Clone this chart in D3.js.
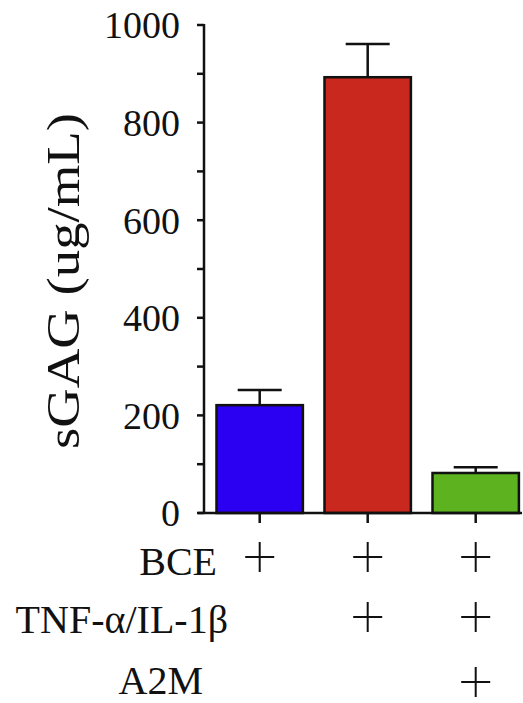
<!DOCTYPE html>
<html>
<head>
<meta charset="utf-8">
<script src="https://cdn.jsdelivr.net/npm/d3@7"></script>
<style>
  html, body { margin: 0; padding: 0; background: #fff; }
  svg { display: block; }
  text { font-family: "Liberation Serif", "Times New Roman", Times, serif; fill: #111; }
</style>
</head>
<body>
<svg id="chart" width="523" height="703"></svg>
<script>
// ---- data ----
const groups = ["BCE", "BCE+TNF/IL", "BCE+TNF/IL+A2M"];
const means = [221, 893, 82];
const errors = [31, 68, 12];
const barColors = ["#2b00f2", "#c8281d", "#5db31f"];
const yTicksMajor = [0, 200, 400, 600, 800, 1000];
const yTicksMinor = [100, 300, 500, 700, 900];
const rowLabels = ["BCE", "TNF-\u03b1/IL-1\u03b2", "A2M"];
const rowPlus = [[1, 1, 1], [0, 1, 1], [0, 0, 1]];
const yTitle = "sGAG (ug/mL)";

// ---- layout ----
const FONT = '"Liberation Serif", "Times New Roman", Times, serif';
const svg = d3.select("#chart");
const axisX = 204, plotTop = 25, plotBottom = 513, plotRight = 522;

const x = d3.scaleBand().domain(groups).range([216.5, 518.9]).paddingInner(0.2).paddingOuter(0);
const y = d3.scaleLinear().domain([0, 1000]).range([plotBottom, plotTop]);

// bars
svg.append("g").selectAll("rect").data(groups).join("rect")
  .attr("x", d => x(d))
  .attr("y", (d, i) => y(means[i]))
  .attr("width", x.bandwidth())
  .attr("height", (d, i) => y(0) - y(means[i]))
  .attr("fill", (d, i) => barColors[i])
  .attr("stroke", "#111")
  .attr("stroke-width", 2.5);

// error bars (upper only)
const eb = svg.append("g").attr("stroke", "#111").attr("stroke-width", 2.5);
groups.forEach((g, i) => {
  const cx = x(g) + x.bandwidth() / 2;
  eb.append("line").attr("x1", cx).attr("x2", cx).attr("y1", y(means[i])).attr("y2", y(means[i] + errors[i]));
  eb.append("line").attr("x1", cx - 22).attr("x2", cx + 22).attr("y1", y(means[i] + errors[i])).attr("y2", y(means[i] + errors[i]));
});

// y axis
const yAxis = svg.append("g").attr("transform", `translate(${axisX},0)`);
yAxis.append("line").attr("x1", 0).attr("x2", 0).attr("y1", plotTop - 1).attr("y2", plotBottom)
  .attr("stroke", "#111").attr("stroke-width", 2.5);
yAxis.selectAll("line.tk").data(yTicksMajor.concat(yTicksMinor)).join("line").attr("class", "tk")
  .attr("x1", -7).attr("x2", 0).attr("y1", d => y(d)).attr("y2", d => y(d))
  .attr("stroke", "#111").attr("stroke-width", 2.5);
yAxis.selectAll("text").data(yTicksMajor).join("text")
  .attr("x", -24).attr("y", d => y(d)).attr("dy", "0.35em")
  .attr("text-anchor", "end").attr("font-size", 38).attr("font-family", FONT)
  .text(d => d);

// y title
svg.append("text")
  .attr("transform", `translate(79,281) rotate(-90)`)
  .attr("text-anchor", "middle")
  .attr("font-size", 46).attr("font-family", FONT)
  .attr("textLength", 336).attr("lengthAdjust", "spacingAndGlyphs")
  .text(yTitle);

// x axis
const xAxis = svg.append("g");
xAxis.append("line").attr("x1", axisX - 6).attr("x2", plotRight).attr("y1", plotBottom).attr("y2", plotBottom)
  .attr("stroke", "#111").attr("stroke-width", 2.5);
xAxis.selectAll("line.tk").data(groups).join("line").attr("class", "tk")
  .attr("x1", d => x(d) + x.bandwidth() / 2).attr("x2", d => x(d) + x.bandwidth() / 2)
  .attr("y1", plotBottom).attr("y2", plotBottom + 10)
  .attr("stroke", "#111").attr("stroke-width", 2.5);

// condition rows
const rowY = [557, 617, 682];
const rowBaseline = [575, 633, 694];
const rowRight = [217, 228, 203];
rowLabels.forEach((lab, r) => {
  svg.append("text").attr("x", rowRight[r]).attr("y", rowBaseline[r])
    .attr("text-anchor", "end").attr("font-size", 40).attr("font-family", FONT).text(lab);
  groups.forEach((g, i) => {
    if (!rowPlus[r][i]) return;
    const cx = x(g) + x.bandwidth() / 2, cy = rowY[r];
    svg.append("path")
      .attr("d", `M${cx - 14.5},${cy}H${cx + 14.5}M${cx},${cy - 15}V${cy + 15}`)
      .attr("stroke", "#111").attr("stroke-width", 2);
  });
});
</script>
</body>
</html>
